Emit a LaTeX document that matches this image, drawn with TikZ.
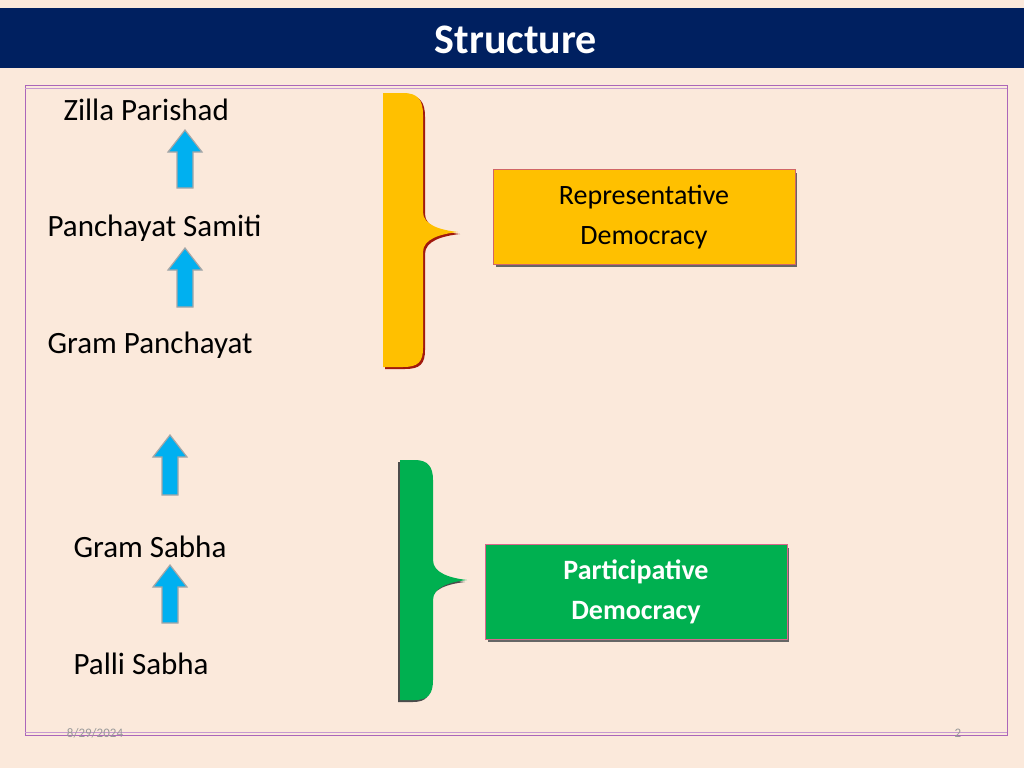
\documentclass[tikz,border=0pt]{standalone}
\usepackage{fontspec}
\setmainfont{Carlito}
\definecolor{bg}{HTML}{FBE9DB}
\definecolor{navy}{HTML}{002060}
\definecolor{ylw}{HTML}{FFC000}
\definecolor{grn}{HTML}{00B050}
\definecolor{arr}{HTML}{00B0F0}
\begin{document}
\begin{tikzpicture}[x=1pt,y=-1pt,
 lbl/.style={font=\fontsize{31}{36}\selectfont, text=black, anchor=west},
 uparrow/.style={fill=arr, draw=gray!70, line width=1.2},
 boxsty/.style={minimum width=302, minimum height=95, align=center, font=\fontsize{28}{40}\selectfont}]
\fill[bg] (0,0) rectangle (1024,768);
\useasboundingbox (0,0) rectangle (1024,768);
\fill[navy] (0,8) rectangle (1024,68);
\node[font=\bfseries\fontsize{42}{48}\selectfont, text=white] (title) at (516,40) {Structure};
\draw[blue!40!purple!60, line width=0.8] (25,85) rectangle (1007,735);
\draw[blue!40!purple!40, line width=0.5] (25,88) -- (1007,88) (25,732) -- (1007,732);
\node[lbl] (zp) at (60,110) {Zilla Parishad};
\node[lbl] (ps) at (44,228) {Panchayat Samiti};
\node[lbl] (gp) at (44,345) {Gram Panchayat};
\node[lbl] (gs) at (70,547) {Gram Sabha};
\node[lbl] (pl) at (70,664) {Palli Sabha};
\foreach \cx/\ya/\yb in {185/188/130, 185/307/248, 170/495/435, 170/623/565}{
 \draw[uparrow] (\cx-8,\ya) -- (\cx-8,\yb+22) -- (\cx-17,\yb+22) -- (\cx,\yb) -- (\cx+17,\yb+22) -- (\cx+8,\yb+22) -- (\cx+8,\ya) -- cycle;
}
% yellow brace
\fill[black!40!red!80!brown, xshift=2, yshift=-2] (383,93) -- (403,93) .. controls (418,93) and (423,100) .. (423,115) -- (423,212) .. controls (423,225) and (440,230) .. (458,232) .. controls (440,234) and (423,239) .. (423,252) -- (423,348) .. controls (423,362) and (418,367) .. (403,367) -- (383,367) -- cycle;
\fill[ylw] (383,93) -- (403,93) .. controls (418,93) and (423,100) .. (423,115) -- (423,212) .. controls (423,225) and (440,230) .. (458,232) .. controls (440,234) and (423,239) .. (423,252) -- (423,348) .. controls (423,362) and (418,367) .. (403,367) -- (383,367) -- cycle;
% green brace
\fill[black!70, xshift=-2, yshift=-2] (400,460) -- (415,460) .. controls (428,460) and (433,467) .. (433,480) -- (433,560) .. controls (433,573) and (450,578) .. (467,580) .. controls (450,582) and (433,587) .. (433,600) -- (433,680) .. controls (433,694) and (428,700) .. (415,700) -- (400,700) -- cycle;
\fill[grn] (400,460) -- (415,460) .. controls (428,460) and (433,467) .. (433,480) -- (433,560) .. controls (433,573) and (450,578) .. (467,580) .. controls (450,582) and (433,587) .. (433,600) -- (433,680) .. controls (433,694) and (428,700) .. (415,700) -- (400,700) -- cycle;
\fill[black!60] (496,173) rectangle (797,267);
\node[boxsty, fill=ylw, draw=black!30!red!60, text=black] (rep) at (644,217) {Representative\\Democracy};
\fill[black!60] (488,548) rectangle (789,642);
\node[boxsty, fill=grn, draw=purple!60, text=white, font=\bfseries\fontsize{28}{40}\selectfont] (par) at (636,592) {Participative\\Democracy};
\node[font=\fontsize{13}{15}\selectfont, text=gray!80] (date) at (95,733) {8/29/2024};
\node[font=\fontsize{13}{15}\selectfont, text=gray!80] (pg) at (958,733) {2};
\end{tikzpicture}
\end{document}
